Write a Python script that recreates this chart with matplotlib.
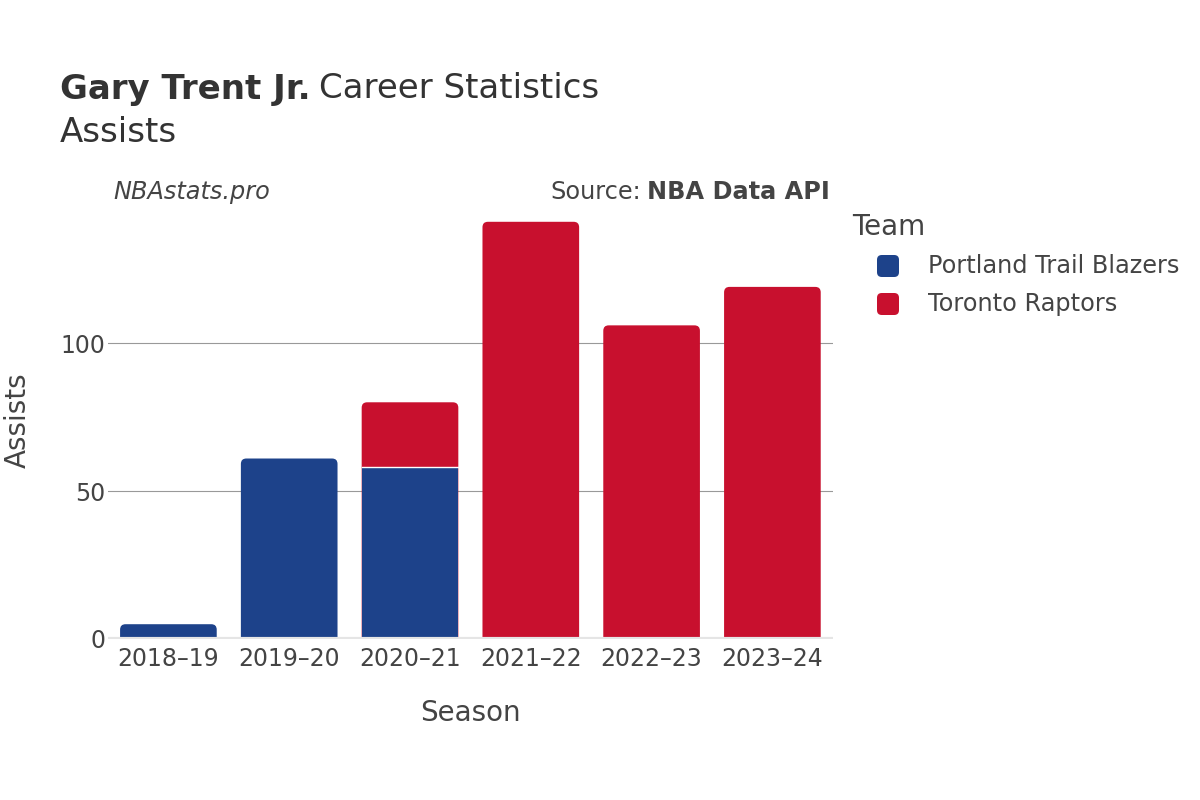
import numpy as np
import matplotlib.pyplot as plt
from matplotlib.patches import FancyBboxPatch

seasons = ["2018–19", "2019–20", "2020–21", "2021–22", "2022–23", "2023–24"]
portland = [5, 61, 58, 0, 0, 0]
toronto = [0, 0, 22, 141, 106, 119]
teams = ["Portland Trail Blazers", "Toronto Raptors"]
colors = ["#1d428a", "#c8102e"]

text_col = "#444444"
plt.rcParams['font.family'] = ['DejaVu Sans']

fig = plt.figure(figsize=(12, 8), dpi=100)
ax = fig.add_axes([0.09, 0.20125, 0.604, 0.54])

x = np.arange(len(seasons))
width = 0.8
ymax = 146
ax.set_xlim(-0.5, len(seasons) - 0.5)
ax.set_ylim(0, ymax)

# pixel scale to make round corners look circular
px_x = 0.604 * 1200 / len(seasons)
px_y = 0.54 * 800 / ymax
aspect = px_x / px_y

for i in range(len(seasons)):
    total = portland[i] + toronto[i]
    top_col = colors[1] if toronto[i] > 0 else colors[0]
    # full stack drawn rounded, extended below zero so only top corners show
    box = FancyBboxPatch((x[i] - width / 2, -10), width, total + 10,
                         boxstyle="round,pad=0,rounding_size=0.045",
                         mutation_aspect=aspect, fc=top_col, ec="none",
                         zorder=3, clip_on=True)
    ax.add_patch(box)
    if toronto[i] > 0 and portland[i] > 0:
        ax.bar(x[i], portland[i], width=width, color=colors[0], zorder=4)
        ax.plot([x[i] - width / 2, x[i] + width / 2], [portland[i]] * 2,
                color="white", lw=1, zorder=5)

ax.set_yticks([0, 50, 100])
ax.yaxis.grid(True, color="#999999", lw=0.8, zorder=0)
ax.axhline(0, color="#e5e5e5", lw=3, zorder=6)
for s in ax.spines.values():
    s.set_visible(False)
ax.tick_params(length=0, labelsize=17, colors=text_col)
ax.tick_params(axis="x", pad=6)
ax.tick_params(axis="y", pad=2)
ax.set_xticks(x)
ax.set_xticklabels(seasons)
ax.set_xlabel("Season", fontsize=20, color=text_col, labelpad=20)
ax.set_ylabel("Assists", fontsize=20, color=text_col)
ax.yaxis.set_label_coords(-0.105, 0.507)

# title
t1 = fig.text(60 / 1200, 1 - 89 / 800, "Gary Trent Jr.", fontsize=24.5,
              fontweight="bold", color="#333333", va="center")
fig.canvas.draw()
bb = t1.get_window_extent()
fig.text(bb.x1 / 1200 + 0.007, 1 - 89 / 800, "Career Statistics", fontsize=24.5,
         color="#333333", va="center")
fig.text(60 / 1200, 1 - 132 / 800, "Assists", fontsize=24.5, color="#333333",
         va="center")

fig.text(113 / 1200, 1 - 192 / 800, "NBAstats.pro", fontsize=17.3,
         style="italic", color=text_col, va="center")
src = fig.text(830 / 1200, 1 - 192 / 800, "NBA Data API", fontsize=17.3,
               fontweight="bold", color=text_col, va="center", ha="right")
fig.canvas.draw()
bb = src.get_window_extent()
fig.text(bb.x0 / 1200 - 0.005, 1 - 192 / 800, "Source:", fontsize=17.3,
         color=text_col, va="center", ha="right")

# legend
fig.text(852 / 1200, 1 - 227 / 800, "Team", fontsize=20, color=text_col,
         va="center")
for k, (team, c) in enumerate(zip(teams, colors)):
    yy = 1 - (266 + 38 * k) / 800
    fig.add_artist(FancyBboxPatch((877 / 1200, yy - 11 / 800), 22 / 1200, 22 / 800,
                                  boxstyle="round,pad=0,rounding_size=0.004",
                                  mutation_aspect=1.5, fc=c, ec="none",
                                  transform=fig.transFigure))
    fig.text(928 / 1200, yy, team, fontsize=17.3, color=text_col, va="center")

fig.savefig("out.png", dpi=100)
